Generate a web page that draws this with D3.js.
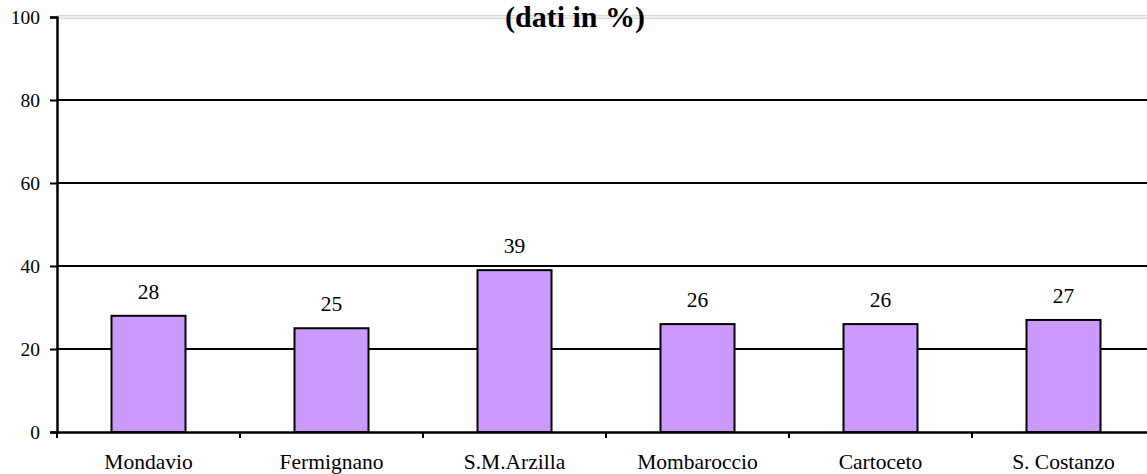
<!DOCTYPE html>
<html><head><meta charset="utf-8">
<script src="https://cdn.jsdelivr.net/npm/d3@7"></script>
<style>body{margin:0;background:#fff;overflow:hidden}svg{display:block}
svg text{font-family:"Liberation Serif","Times New Roman",Times,"DejaVu Serif",serif;fill:#000}</style>
</head><body>
<script>
const categories = ["Mondavio","Fermignano","S.M.Arzilla","Mombaroccio","Cartoceto","S. Costanzo"];
const values = [28,25,39,26,26,27];
const yTicks = [0,20,40,60,80,100];
const title = "(dati in %)";

(function(){
const W = 1147, H = 474;
const mLeft = 57, mRight = 57 + 6*183, mTop = 17, mBottom = 432;
const svg = d3.select("body").append("svg").attr("width", W).attr("height", H);
const fsY = 19.5, fsX = 21.5, fsV = 21.5;

const x = d3.scaleBand().domain(categories).range([mLeft, mRight]).paddingInner(0).paddingOuter(0);
const y = d3.scaleLinear().domain([0,100]).range([mBottom, mTop]);

// gridlines
svg.append("g").selectAll("line").data(yTicks.filter(t => t>0 && t<100)).join("line")
  .attr("x1", mLeft).attr("x2", W).attr("y1", d=>y(d)).attr("y2", d=>y(d))
  .attr("stroke", "#000").attr("stroke-width", 2);
// top double gray line
[-1.2, 1.2].forEach(o => svg.append("line").attr("x1", mLeft).attr("x2", W)
  .attr("y1", y(100)+o).attr("y2", y(100)+o).attr("stroke", "#c8c8c8").attr("stroke-width", 1));

// bars
const bw = 74;
svg.append("g").selectAll("rect").data(values).join("rect")
  .attr("x", (d,i) => x(categories[i]) + x.bandwidth()/2 - bw/2)
  .attr("width", bw)
  .attr("y", d => y(d)).attr("height", d => y(0) - y(d))
  .attr("fill", "#cc99ff").attr("stroke", "#000").attr("stroke-width", 2);

// value labels
svg.append("g").selectAll("text").data(values).join("text")
  .attr("x", (d,i) => x(categories[i]) + x.bandwidth()/2)
  .attr("y", d => y(d) - 17)
  .attr("text-anchor", "middle").style("font-size", fsV + "px")
  .text(d => d);

// y axis
const ya = svg.append("g").attr("transform", `translate(${mLeft},0)`)
  .call(d3.axisLeft(y).tickValues(yTicks).tickSize(7).tickPadding(10));
ya.attr("font-family", null);
ya.select(".domain").attr("stroke", "#000").attr("stroke-width", 2.5);
ya.selectAll(".tick line").attr("stroke", "#000").attr("stroke-width", 2);
ya.selectAll("text").style("font-size", fsY + "px").attr("dy", "0.34em");

// x axis
const xa = svg.append("g").attr("transform", `translate(0,${mBottom})`)
  .call(d3.axisBottom(x).tickSize(0).tickPadding(0));
xa.attr("font-family", null);
xa.select(".domain").attr("stroke", "#000").attr("stroke-width", 2.5);
xa.selectAll("text").style("font-size", fsX + "px").attr("dy", null).attr("y", 37);
const bounds = categories.map(c => x(c)).concat([mRight]);
svg.append("g").selectAll("line").data(bounds).join("line")
  .attr("x1", d=>d).attr("x2", d=>d).attr("y1", mBottom).attr("y2", mBottom+6)
  .attr("stroke", "#000").attr("stroke-width", 2);

// title
svg.append("text").attr("x", 575).attr("y", 27).attr("text-anchor", "middle")
  .style("font-size", "30px").attr("font-weight", "bold").text(title);
})();
</script>
</body></html>
